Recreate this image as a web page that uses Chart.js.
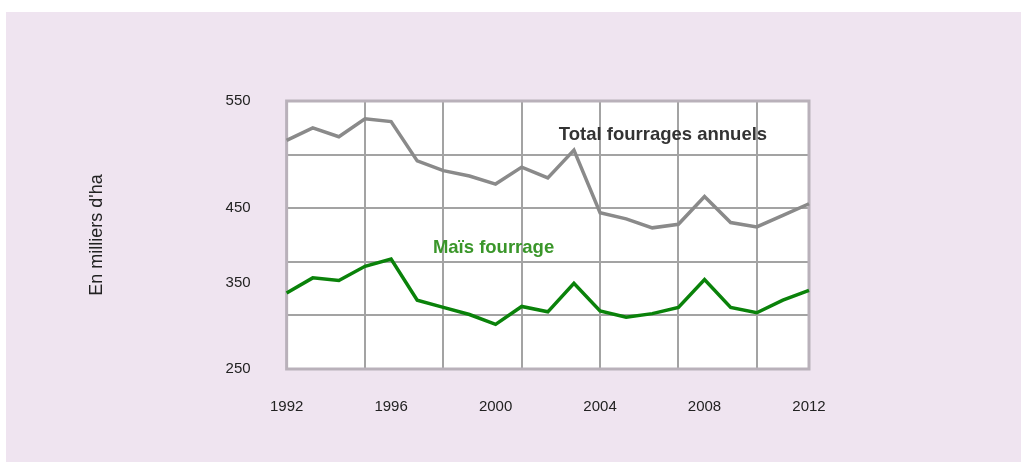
<!DOCTYPE html>
<html>
<head>
<meta charset="utf-8">
<script src="https://cdn.jsdelivr.net/npm/chart.js@4"></script>
<style>
    html, body { margin: 0; padding: 0; background: #ffffff; }
    #panel {
        position: absolute;
        left: 6px;
        top: 12px;
        width: 1015px;
        height: 450px;
        background: #efe4f0;
    }
</style>
</head>
<body>
<div id="panel"><canvas id="fourragesChart" width="1015" height="450"></canvas></div>
<script>
// Années 1992 - 2012
const years = ['1992', '1993', '1994', '1995', '1996', '1997', '1998', '1999', '2000', '2001',
    '2002', '2003', '2004', '2005', '2006', '2007', '2008', '2009', '2010', '2011', '2012'];

// en milliers d'ha
const totalFourrages = [506, 520, 510, 530, 527, 483, 472, 466, 457, 476,
    464, 495, 425, 418, 408, 412, 443, 414, 409, 422, 435];
const maisFourrage = [335, 352, 349, 365, 373, 327, 319, 311, 300, 320,
    314, 346, 315, 308, 312, 319, 350, 319, 313, 327, 338];

const yGridValues = [250, 310, 370, 430, 490, 550];
const yTickLabels = ['550', '450', '350', '250'];
const yTickLabelAt = [550, 430, 346, 250];

const seriesLabels = [
    { text: 'Total fourrages annuels', x: 10.42, y: 512, color: '#333333' },
    { text: 'Maïs fourrage', x: 5.6, y: 385, color: '#3a962a' }
];

const plotDecor = {
    id: 'plotDecor',
    beforeDraw(chart) {
        const { ctx, chartArea: a } = chart;
        ctx.save();
        ctx.fillStyle = '#ffffff';
        ctx.fillRect(a.left, a.top, a.right - a.left, a.bottom - a.top);
        ctx.restore();
    },
    beforeDatasetsDraw(chart) {
        const { ctx, chartArea: a } = chart;
        ctx.save();
        ctx.strokeStyle = '#b9b1ba';
        ctx.lineWidth = 3;
        ctx.strokeRect(a.left, a.top, a.right - a.left, a.bottom - a.top);
        ctx.restore();
    },
    afterDatasetsDraw(chart) {
        const { ctx, scales } = chart;
        ctx.save();
        ctx.font = 'bold 18.5px "Liberation Sans", Arial, sans-serif';
        ctx.textBaseline = 'middle';
        ctx.textAlign = 'left';
        seriesLabels.forEach((l) => {
            ctx.fillStyle = l.color;
            ctx.fillText(l.text, scales.x.getPixelForValue(l.x), scales.y.getPixelForValue(l.y));
        });
        ctx.restore();
    }
};

const tickValues = [...new Set([...yGridValues, ...yTickLabelAt])].sort((a, b) => a - b);

new Chart(document.getElementById('fourragesChart').getContext('2d'), {
    type: 'line',
    data: {
        labels: years,
        datasets: [{
            label: 'Total fourrages annuels',
            data: totalFourrages,
            borderColor: '#8a8a8a',
            borderWidth: 3.5,
            pointRadius: 0,
            tension: 0
        }, {
            label: 'Maïs fourrage',
            data: maisFourrage,
            borderColor: '#0a820a',
            borderWidth: 3.5,
            pointRadius: 0,
            tension: 0
        }]
    },
    options: {
        responsive: false,
        animation: false,
        layout: { padding: { top: 89, right: 212, bottom: 17, left: 0 } },
        plugins: {
            legend: { display: false },
            tooltip: { enabled: false }
        },
        scales: {
            x: {
                offset: false,
                border: { display: false },
                grid: {
                    drawTicks: false,
                    lineWidth: 2,
                    color: (ctx) => (ctx.index % 3 === 0 || ctx.index === years.length - 1) ? '#a3a3a3' : 'rgba(0,0,0,0)'
                },
                ticks: {
                    autoSkip: false,
                    maxRotation: 0,
                    padding: 29,
                    color: '#222222',
                    font: { family: '"Liberation Sans", Arial, sans-serif', size: 15 },
                    callback: (v, i) => (Number(years[i]) % 4 === 0 ? years[i] : '')
                }
            },
            y: {
                min: 250,
                max: 550,
                border: { display: false },
                afterBuildTicks: (scale) => {
                    scale.ticks = tickValues.map((v) => ({ value: v }));
                },
                grid: {
                    drawTicks: false,
                    lineWidth: 2,
                    color: (ctx) => (ctx.tick && yGridValues.includes(ctx.tick.value)) ? '#a3a3a3' : 'rgba(0,0,0,0)'
                },
                ticks: {
                    padding: 36,
                    color: '#222222',
                    font: { family: '"Liberation Sans", Arial, sans-serif', size: 15 },
                    callback: (v) => {
                        const i = yTickLabelAt.indexOf(v);
                        return i >= 0 ? yTickLabels[i] : '';
                    }
                },
                title: {
                    display: true,
                    text: "En milliers d'ha",
                    color: '#222222',
                    font: { family: '"Liberation Sans", Arial, sans-serif', size: 18 },
                    padding: { top: 80, bottom: 82 }
                }
            }
        }
    },
    plugins: [plotDecor]
});
</script>
</body>
</html>
